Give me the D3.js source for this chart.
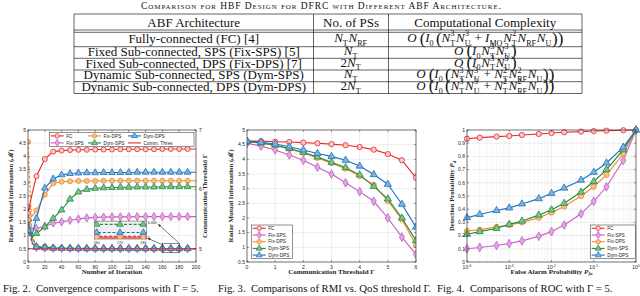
<!DOCTYPE html>
<html>
<head>
<meta charset="utf-8">
<script src="https://cdn.jsdelivr.net/npm/d3@7"></script>
<style>
  body { margin: 0; background: #fff; }
  svg { display: block; }
</style>
</head>
<body>
<svg id="fig" width="640" height="296"></svg>
<script>
// ---- table content ----
var tableTitle = "Comparison for HBF Design for DFRC with Different ABF Architecture.";
var tableHeads = ["ABF Architecture", "No. of PSs", "Computational Complexity"];
var abfNames = ["Fully-connected (FC) [4]", "Fixed Sub-connected, SPS (Fix-SPS) [5]",
  "Fixed Sub-connected, DPS (Fix-DPS) [7]", "Dynamic Sub-connected, SPS (Dym-SPS)",
  "Dynamic Sub-connected, DPS (Dym-DPS)"];
var psCounts = ["N_T N_RF", "N_T", "2 N_T", "N_T", "2 N_T"];
var complexities = [
  "O ( I_0 ( N_T^3 N_U^3 + I_MO N_T^2 N_RF N_U ) )",
  "O ( I_0 N_T^3 N_U^3 )",
  "O ( I_0 N_T^3 N_U^3 )",
  "O ( I_0 ( N_T^3 N_U^3 + N_T^2 N_RF^2 N_U ) )",
  "O ( I_0 ( N_T^3 N_U^3 + N_T^2 N_RF^2 N_U ) )"];

// ---- series ----
var seriesNames = ["FC", "Fix-SPS", "Fix-DPS", "Dym-SPS", "Dym-DPS"];

// Fig. 2: convergence
var iterations = [0, 5, 10, 20, 30, 40, 50, 60, 70, 80, 90, 100, 110, 120, 130, 140, 150, 160, 170, 180, 190, 200];
var rmiFC     = [1.85, 2.6, 3.25, 3.9, 4.18, 4.22, 4.24, 4.25, 4.25, 4.26, 4.26, 4.26, 4.27, 4.27, 4.27, 4.27, 4.27, 4.28, 4.28, 4.28, 4.28, 4.28];
var rmiFixSPS = [1.25, 1.28, 1.27, 1.35, 1.47, 1.52, 1.58, 1.63, 1.67, 1.69, 1.70, 1.71, 1.71, 1.71, 1.72, 1.72, 1.72, 1.72, 1.72, 1.72, 1.72, 1.72];
var rmiFixDPS = [1.6, 1.75, 1.95, 2.55, 2.98, 3.04, 3.06, 3.07, 3.07, 3.07, 3.08, 3.08, 3.08, 3.08, 3.08, 3.08, 3.08, 3.08, 3.08, 3.08, 3.08, 3.08];
var rmiDymSPS = [1.15, 0.95, 1.08, 1.33, 1.65, 1.97, 2.38, 2.65, 2.75, 2.79, 2.81, 2.82, 2.83, 2.83, 2.84, 2.84, 2.84, 2.85, 2.85, 2.85, 2.85, 2.85];
var rmiDymDPS = [1.2, 1.05, 1.65, 2.8, 3.15, 3.3, 3.35, 3.37, 3.38, 3.38, 3.39, 3.39, 3.39, 3.39, 3.4, 3.4, 3.4, 3.4, 3.4, 3.4, 3.4, 3.4];
// achieved communication threshold (right axis)
var thrFC     = [5.70, 5.10, 5.030, 5.035, 5.015, 5.010, 5.008, 5.006, 5.004, 5.003, 5.002, 5.002, 5.001, 5.001, 5.001, 5.001, 5.0006, 5.0005, 5.0005, 5.0005, 5.0005, 5.0005];
var thrFixSPS = [5.33, 5.08, 5.020, 5.015, 5.010, 5.008, 5.006, 5.005, 5.004, 5.003, 5.002, 5.001, 5.001, 5.001, 5.0005, 5.0004, 5.0003, 5.0002, 5.0002, 5.0002, 5.0002, 5.0002];
var thrFixDPS = [6.80, 5.18, 5.035, 5.020, 5.012, 5.008, 5.006, 5.004, 5.003, 5.002, 5.002, 5.001, 5.001, 5.001, 5.0006, 5.0005, 5.0004, 5.0003, 5.0003, 5.0003, 5.0003, 5.0003];
var thrDymSPS = [5.38, 5.20, 5.040, 5.025, 5.015, 5.012, 5.010, 5.008, 5.007, 5.006, 5.006, 5.005, 5.005, 5.005, 5.0048, 5.0047, 5.0046, 5.0045, 5.0045, 5.0045, 5.0045, 5.0045];
var thrDymDPS = [5.50, 5.10, 5.025, 5.015, 5.010, 5.006, 5.004, 5.003, 5.0025, 5.0022, 5.002, 5.002, 5.0019, 5.0019, 5.0018, 5.0018, 5.0018, 5.0018, 5.0018, 5.0018, 5.0018, 5.0018];
var commThres = 5;

// Fig. 3: RMI vs threshold
var gammas = [0, 0.5, 1, 1.5, 2, 2.5, 3, 3.5, 4, 4.5, 5, 5.5, 6];
var gFC     = [4.62, 4.62, 4.60, 4.59, 4.57, 4.55, 4.52, 4.48, 4.42, 4.33, 4.18, 3.97, 3.37];
var gFixSPS = [4.55, 4.45, 4.32, 4.15, 3.97, 3.73, 3.50, 3.20, 2.90, 2.57, 2.00, 1.35, 0.76];
var gFixDPS = [4.60, 4.55, 4.47, 4.35, 4.22, 4.05, 3.87, 3.68, 3.43, 3.13, 2.58, 1.95, 1.07];
var gDymSPS = [4.60, 4.56, 4.48, 4.37, 4.24, 4.08, 3.90, 3.72, 3.47, 3.08, 2.65, 2.00, 1.23];
var gDymDPS = [4.62, 4.58, 4.52, 4.43, 4.32, 4.20, 4.10, 3.97, 3.77, 3.48, 3.15, 2.47, 1.69];

// Fig. 4: ROC
var pfa = [1e-4, 2e-4, 5e-4, 1e-3, 2e-3, 5e-3, 1e-2, 2e-2, 5e-2, 0.1, 0.2, 0.5, 1];
var pdFC     = [0.934, 0.942, 0.950, 0.955, 0.962, 0.970, 0.977, 0.983, 0.988, 0.992, 0.995, 0.998, 1.0];
var pdFixSPS = [0.10, 0.11, 0.125, 0.14, 0.16, 0.195, 0.23, 0.28, 0.365, 0.46, 0.57, 0.77, 1.0];
var pdFixDPS = [0.235, 0.245, 0.265, 0.28, 0.30, 0.335, 0.375, 0.42, 0.50, 0.57, 0.66, 0.82, 1.0];
var pdDymSPS = [0.21, 0.23, 0.255, 0.285, 0.31, 0.355, 0.395, 0.445, 0.53, 0.61, 0.70, 0.85, 1.0];
var pdDymDPS = [0.336, 0.36, 0.39, 0.41, 0.44, 0.48, 0.52, 0.56, 0.62, 0.68, 0.75, 0.87, 1.0];

// ---- styles ----
var colors = ["#e8282b", "#c45ec6", "#ef8a2a", "#1f8b3b", "#1a72c0"];
var marks = [d3.symbolCircle, d3.symbolDiamond, d3.symbolCircle, d3.symbolTriangle, d3.symbolTriangle];
var serif = "Liberation Serif, Times New Roman, serif";
var sans = "Liberation Sans, Arial, sans-serif";
var ink = "#262626";

var svg = d3.select("#fig");

function lighter(c) { return d3.interpolateRgb(c, "#ffffff")(0.45); }

// ============ TABLE ============
var tb = { left: 74, right: 582, c1: 313.5, c2: 388.5 };
var hLines = [14, 30, 32.3, 46.7, 58.3, 70, 81.7, 93.5];
var tg = svg.append("g");

tg.append("text").attr("x", 321).attr("y", 9)
  .attr("font-family", serif).attr("fill", "#111")
  .attr("text-anchor", "middle").attr("font-size", 9.5)
  .style("font-variant", "small-caps")
  .attr("textLength", 360).attr("lengthAdjust", "spacing")
  .text(tableTitle);

tg.selectAll(".hl").data(hLines).join("line")
  .attr("x1", tb.left).attr("x2", tb.right)
  .attr("y1", function (d) { return d; }).attr("y2", function (d) { return d; })
  .attr("stroke", "#222").attr("stroke-width", 0.7);
[tb.left, tb.c1, tb.c2, tb.right].forEach(function (x) {
  tg.append("line").attr("x1", x).attr("x2", x).attr("y1", 14).attr("y2", 93.5)
    .attr("stroke", "#222").attr("stroke-width", 0.7);
});

var colCenters = [(tb.left + tb.c1) / 2, (tb.c1 + tb.c2) / 2, (tb.c2 + tb.right) / 2];
tableHeads.forEach(function (h, i) {
  tg.append("text").attr("x", colCenters[i]).attr("y", 26.5)
    .attr("font-family", serif).attr("fill", "#111")
    .attr("text-anchor", "middle").attr("font-size", 13).text(h);
});

// one <text> per formula, pieces placed as tspans
function drawMath(parent, cx, baseline, expr, size) {
  var t = parent.append("text").attr("font-family", serif).attr("fill", "#111")
    .attr("font-size", size).attr("y", baseline);
  var x = 0;
  function piece(str, px, dy, fs, it) {
    var s = t.append("tspan").attr("x", px).attr("y", baseline + dy).attr("font-size", fs).text(str);
    if (it) s.attr("font-style", "italic");
    return s.node().getComputedTextLength();
  }
  expr.split(" ").forEach(function (tok) {
    var m = tok.match(/^([^_^]+)(?:_([^_^]+))?(?:\^([^_^]+))?$/);
    var base = m[1], sub = m[2], sup = m[3];
    var paren = base === "(" || base === ")";
    var op = base === "+";
    if (op) x += size * 0.25;
    if (base === "(" && x > 0) x += size * 0.12;
    x += piece(base, x, paren ? size * 0.1 : 0, paren ? size * 1.3 : size, /[A-Z]/.test(base));
    if (op) x += size * 0.25;
    if (base === "O") x += size * 0.12;
    var w = 0;
    if (sup) w = Math.max(w, piece(sup, x + 0.3, -size * 0.45, size * 0.62, false) + 0.3);
    if (sub) w = Math.max(w, piece(sub, x, size * 0.28, size * 0.62, false));
    x += w + (sub || sup ? size * 0.06 : 0);
  });
  t.attr("transform", "translate(" + (cx - x / 2) + ",0)");
}

var rowBase = [43.3, 56.0, 67.7, 79.4, 91.1];
abfNames.forEach(function (name, i) {
  tg.append("text").attr("x", colCenters[0]).attr("y", rowBase[i])
    .attr("font-family", serif).attr("fill", "#111")
    .attr("text-anchor", "middle").attr("font-size", 13).text(name);
  drawMath(tg, colCenters[1], rowBase[i] - 1, psCounts[i], 13);
  drawMath(tg, colCenters[2], rowBase[i] - 1, complexities[i], 13);
});

// ============ AXES HELPERS ============
function gridAndBox(x, y, xTicks, yTicks) {
  var g = svg.append("g");
  var xr = x.range(), yr = y.range();
  g.append("rect").attr("x", xr[0]).attr("y", yr[1]).attr("width", xr[1] - xr[0]).attr("height", yr[0] - yr[1]).attr("fill", "#fff");
  g.selectAll(".gx").data(xTicks).join("line")
    .attr("x1", function (d) { return x(d); }).attr("x2", function (d) { return x(d); })
    .attr("y1", yr[0]).attr("y2", yr[1]).attr("stroke", "#dcdcdc").attr("stroke-width", 0.5);
  g.selectAll(".gy").data(yTicks).join("line")
    .attr("y1", function (d) { return y(d); }).attr("y2", function (d) { return y(d); })
    .attr("x1", xr[0]).attr("x2", xr[1]).attr("stroke", "#dcdcdc").attr("stroke-width", 0.5);
  return g;
}

function frame(x, y, xTicks, yTicks, xFmt, yFmt, noRightTicks) {
  var g = svg.append("g").attr("font-family", sans).attr("font-size", 5).attr("fill", ink);
  var xr = x.range(), yr = y.range();
  g.append("rect").attr("x", xr[0]).attr("y", yr[1]).attr("width", xr[1] - xr[0]).attr("height", yr[0] - yr[1])
    .attr("fill", "none").attr("stroke", ink).attr("stroke-width", 0.6);
  xTicks.forEach(function (d) {
    g.append("line").attr("x1", x(d)).attr("x2", x(d)).attr("y1", yr[0]).attr("y2", yr[0] - 1.8).attr("stroke", ink).attr("stroke-width", 0.5);
    g.append("line").attr("x1", x(d)).attr("x2", x(d)).attr("y1", yr[1]).attr("y2", yr[1] + 1.8).attr("stroke", ink).attr("stroke-width", 0.5);
  });
  yTicks.forEach(function (d) {
    g.append("line").attr("y1", y(d)).attr("y2", y(d)).attr("x1", xr[0]).attr("x2", xr[0] + 1.8).attr("stroke", ink).attr("stroke-width", 0.5);
    if (!noRightTicks) g.append("line").attr("y1", y(d)).attr("y2", y(d)).attr("x1", xr[1]).attr("x2", xr[1] - 1.8).attr("stroke", ink).attr("stroke-width", 0.5);
    g.append("text").attr("x", xr[0] - 2).attr("y", y(d) + 1.8).attr("text-anchor", "end").text(yFmt(d));
  });
  if (xFmt) xTicks.forEach(function (d) {
    g.append("text").attr("x", x(d)).attr("y", yr[0] + 6.5).attr("text-anchor", "middle").text(xFmt(d));
  });
  return g;
}

function clipFor(id, x, y) {
  var xr = x.range(), yr = y.range();
  svg.append("clipPath").attr("id", id).append("rect")
    .attr("x", xr[0]).attr("y", yr[1]).attr("width", xr[1] - xr[0]).attr("height", yr[0] - yr[1]);
  return svg.append("g").attr("clip-path", "url(#" + id + ")");
}

function drawSeries(g, xs, ys, x, y, i, dashed, markFilter, msize) {
  var pts = ys.map(function (v, k) { return [xs[k], v]; });
  g.append("path")
    .attr("d", d3.line().x(function (d) { return x(d[0]); }).y(function (d) { return y(d[1]); })(pts))
    .attr("fill", "none").attr("stroke", colors[i]).attr("stroke-width", 1.1)
    .attr("stroke-dasharray", dashed ? "3,1.8" : null);
  g.selectAll(null).data(pts.filter(function (d, k) { return markFilter ? markFilter(d, k) : true; }))
    .join("path")
    .attr("transform", function (d) { return "translate(" + x(d[0]) + "," + y(d[1]) + ")"; })
    .attr("d", d3.symbol(marks[i], msize || 20))
    .attr("fill", i === 0 ? "#f9c9c9" : lighter(colors[i]))
    .attr("stroke", colors[i]).attr("stroke-width", 0.8);
}

function legendEntry(g, x0, yc, i, label) {
  g.append("line").attr("x1", x0).attr("x2", x0 + 13).attr("y1", yc).attr("y2", yc)
    .attr("stroke", i < 0 ? colors[0] : colors[i]).attr("stroke-width", 1.1);
  if (i >= 0) g.append("path").attr("transform", "translate(" + (x0 + 6.5) + "," + yc + ")")
    .attr("d", d3.symbol(marks[i], 16)).attr("fill", i === 0 ? "#f9c9c9" : lighter(colors[i]))
    .attr("stroke", colors[i]).attr("stroke-width", 0.7);
  g.append("text").attr("x", x0 + 15.5).attr("y", yc + 1.7).text(label);
}

function axisLabel(x, y, rot, parts, size) {
  var t = svg.append("text").attr("font-family", serif).attr("font-weight", "bold")
    .attr("font-size", size || 7).attr("fill", ink).attr("text-anchor", "middle")
    .attr("transform", "translate(" + x + "," + y + ")" + (rot ? " rotate(" + rot + ")" : ""));
  parts.forEach(function (p) {
    var s = t.append("tspan").text(p.t);
    if (p.it) s.attr("font-style", "italic");
    if (p.sub) s.attr("font-size", (size || 7) * 0.7).attr("dy", 1.5);
  });
  return t;
}

function caption(x, txt) {
  svg.append("text").attr("x", x).attr("y", 292).attr("font-family", serif)
    .attr("font-size", 10.7).attr("fill", "#111").attr("xml:space", "preserve").text(txt);
}

// ============ FIG. 2 ============
var x1 = d3.scaleLinear().domain([0, 200]).range([28, 196]);
var y1 = d3.scaleLinear().domain([0, 5]).range([262, 130]);
var y1r = d3.scaleLinear().domain([5 - 0.5 * 2 / 4.5, 7]).range([262, 130]);
var x1Ticks = d3.range(0, 201, 20), y1Ticks = d3.range(0, 5.01, 0.5);

gridAndBox(x1, y1, x1Ticks, y1Ticks);
var p1 = clipFor("c1", x1, y1);
var mk10 = function (d) { return d[0] % 10 === 0 && d[0] < 200; };
[thrFC, thrFixSPS, thrFixDPS, thrDymSPS, thrDymDPS].forEach(function (s, i) {
  drawSeries(p1, iterations, s, x1, y1r, i, true, mk10);
});
p1.append("line").attr("x1", x1(0)).attr("x2", x1(200)).attr("y1", y1r(commThres)).attr("y2", y1r(commThres))
  .attr("stroke", colors[0]).attr("stroke-width", 1.1);
[rmiFC, rmiFixSPS, rmiFixDPS, rmiDymSPS, rmiDymDPS].forEach(function (s, i) {
  drawSeries(p1, iterations, s, x1, y1, i, false, mk10);
});

var f1 = frame(x1, y1, x1Ticks, y1Ticks, function (d) { return d; }, function (d) { return d3.format("~g")(d); }, true);
[5, 6, 7].forEach(function (d) {
  f1.append("line").attr("x1", 196).attr("x2", 194.2).attr("y1", y1r(d)).attr("y2", y1r(d)).attr("stroke", ink).attr("stroke-width", 0.5);
  f1.append("text").attr("x", 199).attr("y", y1r(d) + 1.8).text(d);
});

// zoom box, inset and arrows
var zoomRect = { x0: 160, x1: 180, y0: 0.35, y1: 0.71 };
p1.append("rect").attr("x", x1(zoomRect.x0)).attr("y", y1(zoomRect.y1))
  .attr("width", x1(zoomRect.x1) - x1(zoomRect.x0)).attr("height", y1(zoomRect.y0) - y1(zoomRect.y1))
  .attr("fill", "none").attr("stroke", "#333").attr("stroke-width", 0.6);

var insetBox = { x0: 79, x1: 141.4, y0: 0.87, y1: 1.55 };
var xi = d3.scaleLinear().domain([159, 181.5]).range([x1(insetBox.x0), x1(insetBox.x1)]);
var yi = d3.scaleLinear().domain([4.9996, 5.0056]).range([y1(insetBox.y0), y1(insetBox.y1)]);
svg.append("rect").attr("x", xi.range()[0]).attr("y", yi.range()[1])
  .attr("width", xi.range()[1] - xi.range()[0]).attr("height", yi.range()[0] - yi.range()[1])
  .attr("fill", "#f0f0f0").attr("stroke", "#444").attr("stroke-width", 0.5);
var pi = clipFor("ci", xi, yi);
pi.append("line").attr("x1", xi(150)).attr("x2", xi(190)).attr("y1", yi(commThres)).attr("y2", yi(commThres))
  .attr("stroke", colors[0]).attr("stroke-width", 1.1);
var mkIn = function (d) { return d[0] >= 160 && d[0] <= 180; };
[thrFixSPS, thrFC, thrFixDPS, thrDymDPS, thrDymSPS].forEach(function (s, k) {
  var i = [1, 0, 2, 4, 3][k];
  drawSeries(pi, iterations, s, xi, yi, i, true, mkIn, 18);
});
var fi = svg.append("g").attr("font-family", sans).attr("font-size", 3.6).attr("fill", ink);
[160, 170, 180].forEach(function (d) {
  fi.append("text").attr("x", xi(d)).attr("y", yi.range()[0] + 4.5).attr("text-anchor", "middle").text(d);
});
fi.append("text").attr("x", xi.range()[1] + 1).attr("y", yi(5.005) + 1.3).text("5.005");
fi.append("text").attr("x", xi.range()[1] + 1).attr("y", yi(5) + 1.3).text("5");

svg.append("defs").append("marker").attr("id", "ah").attr("viewBox", "0 0 10 10")
  .attr("refX", 9).attr("refY", 5).attr("markerWidth", 5).attr("markerHeight", 5).attr("orient", "auto")
  .append("path").attr("d", "M0,1 L10,5 L0,9 Z").attr("fill", "#222");
var arrows = [[180, 0.71, 155.1, 1.43], [161, 0.64, 142.5, 0.9]];
arrows.forEach(function (a) {
  svg.append("line").attr("x1", x1(a[0])).attr("y1", y1(a[1])).attr("x2", x1(a[2])).attr("y2", y1(a[3]))
    .attr("stroke", "#222").attr("stroke-width", 0.6).attr("marker-end", "url(#ah)");
});

// legend fig 2
var lg1 = svg.append("g").attr("font-family", sans).attr("font-size", 4.8).attr("fill", ink);
lg1.append("rect").attr("x", 49.3).attr("y", 132.7).attr("width", 144.7).attr("height", 14)
  .attr("fill", "#fff").attr("stroke", ink).attr("stroke-width", 0.5);
legendEntry(lg1, 50.7, 135.9, 0, "FC");
legendEntry(lg1, 88, 135.9, 2, "Fix-DPS");
legendEntry(lg1, 128, 135.9, 4, "Dym-DPS");
legendEntry(lg1, 50.7, 142.9, 1, "Fix-SPS");
legendEntry(lg1, 88, 142.9, 3, "Dym-SPS");
legendEntry(lg1, 128, 142.9, -1, "Comm. Thres");

axisLabel(112, 273.5, 0, [{ t: "Number of Iteration" }]);
axisLabel(12.5, 196, -90, [{ t: "Radar Mutual Information (ℳ)" }], 6.8);
axisLabel(207, 196, -90, [{ t: "Communication Threshold Γ" }], 6.8);
caption(3, "Fig. 2.  Convergence comparisons with Γ = 5.");

// ============ FIG. 3 ============
var x2 = d3.scaleLinear().domain([0, 6]).range([247, 416]);
var y2 = d3.scaleLinear().domain([0.5, 5]).range([262, 130]);
var x2Ticks = d3.range(0, 7, 1), y2Ticks = d3.range(0.5, 5.01, 0.5);
gridAndBox(x2, y2, x2Ticks, y2Ticks);
var p2 = clipFor("c2", x2, y2);
[gFC, gFixSPS, gFixDPS, gDymSPS, gDymDPS].forEach(function (s, i) {
  drawSeries(p2, gammas, s, x2, y2, i, false, null, 22);
});
frame(x2, y2, x2Ticks, y2Ticks, function (d) { return d; }, function (d) { return d3.format("~g")(d); });
var lg2 = svg.append("g").attr("font-family", sans).attr("font-size", 4.8).attr("fill", ink);
lg2.append("rect").attr("x", 251.7).attr("y", 225).attr("width", 40.6).attr("height", 33.3)
  .attr("fill", "#fff").attr("stroke", ink).attr("stroke-width", 0.5);
seriesNames.forEach(function (n, i) { legendEntry(lg2, 252.7, 228.3 + i * 6.7, i, n); });
axisLabel(331.5, 273.5, 0, [{ t: "Communication Threshold Γ" }]);
axisLabel(232.5, 196, -90, [{ t: "Radar Mutual Information (ℳ)" }], 6.8);
caption(218, "Fig. 3.  Comparisons of RMI vs. QoS threshold Γ.");

// ============ FIG. 4 ============
var x3 = d3.scaleLog().domain([1e-4, 1]).range([467, 636]);
var y3 = d3.scaleLinear().domain([0, 1]).range([262, 130]);
var x3Ticks = [1e-4, 1e-3, 1e-2, 1e-1, 1], y3Ticks = d3.range(0, 1.001, 0.1);
var g3 = gridAndBox(x3, y3, x3Ticks, y3Ticks);
var minor3 = x3.ticks().filter(function (d) { return x3Ticks.indexOf(d) < 0; });
g3.selectAll(".mx").data(minor3).join("line")
  .attr("x1", function (d) { return x3(d); }).attr("x2", function (d) { return x3(d); })
  .attr("y1", 262).attr("y2", 130).attr("stroke", "#d0d0d0").attr("stroke-width", 0.4).attr("stroke-dasharray", "0.8,0.8");
var p3 = svg.append("g");
[pdFC, pdFixSPS, pdFixDPS, pdDymSPS, pdDymDPS].forEach(function (s, i) {
  drawSeries(p3, pfa, s, x3, y3, i, false, null, 22);
});
var f3 = frame(x3, y3, x3Ticks, y3Ticks, null, function (d) { return d3.format("~g")(d.toFixed(1)); });
x3Ticks.forEach(function (d) {
  var t = f3.append("text").attr("x", x3(d)).attr("y", 268.5).attr("text-anchor", "middle");
  t.append("tspan").text("10");
  t.append("tspan").attr("font-size", 3.6).attr("dy", -2).text(Math.round(Math.log10(d)));
});
var lg3 = svg.append("g").attr("font-family", sans).attr("font-size", 4.8).attr("fill", ink);
lg3.append("rect").attr("x", 590.7).attr("y", 225).attr("width", 44.6).attr("height", 33.3)
  .attr("fill", "#fff").attr("stroke", ink).attr("stroke-width", 0.5);
seriesNames.forEach(function (n, i) { legendEntry(lg3, 591.7, 228.3 + i * 6.7, i, n); });
axisLabel(551.5, 273.5, 0, [{ t: "False Alarm Probability " }, { t: "P", it: true }, { t: "fa", it: true, sub: true }]);
axisLabel(454, 196, -90, [{ t: "Detection Probability " }, { t: "P", it: true }, { t: "d", it: true, sub: true }], 6.8);
caption(437, "Fig. 4.  Comparisons of ROC with Γ = 5.");
</script>
</body>
</html>
